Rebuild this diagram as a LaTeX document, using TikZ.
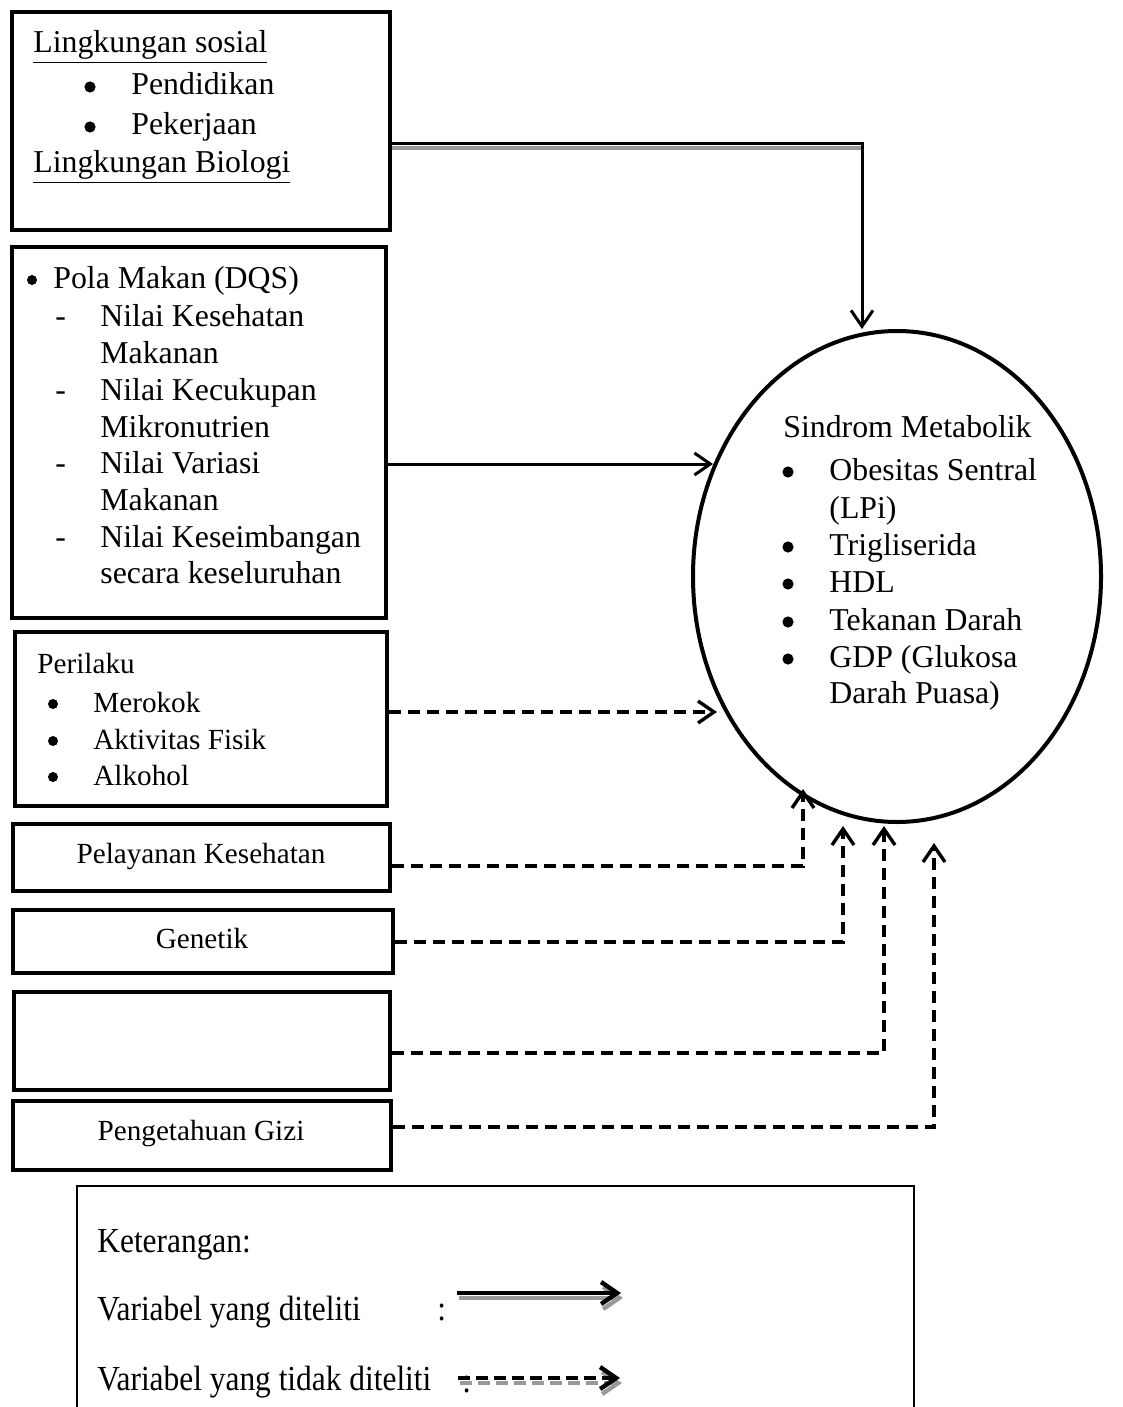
\documentclass[tikz,border=0pt]{standalone}
\usepackage{fontspec}
\setmainfont{Liberation Serif}
\usetikzlibrary{arrows.meta,fit,shapes.geometric,calc}
\tikzset{
  box/.style={draw, line width=2.4pt, inner sep=0pt},
  legendbox/.style={draw, line width=0.8pt, inner sep=0pt},
  big/.style={font=\fontsize{15.9}{18.75}\selectfont, inner sep=0pt, anchor=base west},
  small/.style={font=\fontsize{14.6}{18}\selectfont, inner sep=0pt, anchor=base west},
  legtext/.style={font=\fontsize{15.7}{18.75}\selectfont, inner sep=0pt, anchor=base west, yscale=1.12},
  dot/.style={circle, fill, inner sep=0pt, minimum size=5.6pt},
  sdot/.style={circle, fill, inner sep=0pt, minimum size=5pt},
  tipbarb/.style={-{Straight Barb[length=8pt,width=11pt]}},
  conn/.style={line width=1.5pt, tipbarb},
  dconn/.style={line width=1.7pt, dash pattern=on 6pt off 3.5pt, tipbarb},
  shadowline/.style={line width=1.6pt, draw=black!40},
}
\begin{document}
\begin{tikzpicture}[x=0.5pt,y=-0.5pt]
\useasboundingbox (0,0) rectangle (1123,1407);

% ---------- boxes ----------
\node[box, fit={(12,12)(390,230)}] (b1) {};
\node[box, fit={(12,247)(386,618)}] (b2) {};
\node[box, fit={(15,632)(387,806)}] (b3) {};
\node[box, fit={(13,824)(390,891)}] (b4) {};
\node[box, fit={(13,910)(393,973)}] (b5) {};
\node[box, fit={(14,992)(390,1090)}] (b6) {};
\node[box, fit={(13,1101)(391,1170)}] (b7) {};

% ---------- ellipse ----------
\node[draw, ellipse, line width=2pt, inner sep=0pt,
      minimum width=204pt, minimum height=245.5pt] (sm) at (897,576.5) {};

% ---------- box 1 text ----------
\node[big] (l1a) at (33,53) {\underline{Lingkungan sosial}};
\node[dot] (l1b) at (90,87) {};
\node[big] (l1c) at (131,95) {Pendidikan};
\node[dot] (l1d) at (90,127) {};
\node[big] (l1e) at (131,135) {Pekerjaan};
\node[big] (l1f) at (33,173) {\underline{Lingkungan Biologi}};

% ---------- box 2 text ----------
\node[sdot] (l2a) at (32,280) {};
\node[big] (l2b) at (53,288) {Pola Makan (DQS)};
\node[big] (l2c) at (55,326) {-};
\node[big] (l2d) at (100,326) {Nilai Kesehatan};
\node[big] (l2e) at (100,363) {Makanan};
\node[big] (l2f) at (55,400) {-};
\node[big] (l2g) at (100,400) {Nilai Kecukupan};
\node[big] (l2h) at (100,437) {Mikronutrien};
\node[big] (l2i) at (55,473) {-};
\node[big] (l2j) at (100,473) {Nilai Variasi};
\node[big] (l2k) at (100,510) {Makanan};
\node[big] (l2l) at (55,547) {-};
\node[big] (l2m) at (100,547) {Nilai Keseimbangan};
\node[big] (l2n) at (100,583) {secara keseluruhan};

% ---------- box 3 text ----------
\node[small] (l3a) at (37,673) {Perilaku};
\node[sdot] (l3b) at (53,704) {};
\node[small] (l3c) at (93,712) {Merokok};
\node[sdot] (l3d) at (53,741) {};
\node[small] (l3e) at (93,749) {Aktivitas Fisik};
\node[sdot] (l3f) at (53,777) {};
\node[small] (l3g) at (93,785) {Alkohol};

% ---------- boxes 4-7 text ----------
\node[small, anchor=base] (l4) at (201,863) {Pelayanan Kesehatan};
\node[small, anchor=base] (l5) at (202,948) {Genetik};
\node[small, anchor=base] (l7) at (201,1140) {Pengetahuan Gizi};

% ---------- ellipse text ----------
\node[big] (e0) at (783,437) {Sindrom Metabolik};
\node[dot] (e1b) at (788,472) {};
\node[big] (e1) at (829,480) {Obesitas Sentral};
\node[big] (e1c) at (829,518) {(LPi)};
\node[dot] (e2b) at (788,547) {};
\node[big] (e2) at (829,555) {Trigliserida};
\node[dot] (e3b) at (788,584) {};
\node[big] (e3) at (829,592) {HDL};
\node[dot] (e4b) at (788,622) {};
\node[big] (e4) at (829,630) {Tekanan Darah};
\node[dot] (e5b) at (788,659) {};
\node[big] (e5) at (829,667) {GDP (Glukosa};
\node[big] (e5c) at (829,703) {Darah Puasa)};

% ---------- connectors ----------
\coordinate (k1) at (862,144);
\coordinate (t1) at (862,329);
\draw[shadowline] ($(b1.east |- k1)+(0,4)$) -- ($(k1)+(0,4)$);
\draw[conn] (b1.east |- k1) -- (k1) -- (t1);

\coordinate (t2) at (713,464);
\draw[conn] (b2.east |- t2) -- (t2);

\coordinate (t3) at (717,712);
\draw[dconn] (b3.east |- t3) -- (t3);

\coordinate (k4) at (803,866);
\coordinate (t4) at (803,789);
\draw[dconn] (b4.east |- k4) -- (k4) -- (t4);

\coordinate (k5) at (843,942);
\coordinate (t5) at (843,826);
\draw[dconn] (b5.east |- k5) -- (k5) -- (t5);

\coordinate (k6) at (884,1053);
\coordinate (t6) at (884,826);
\draw[dconn] (b6.east |- k6) -- (k6) -- (t6);

\coordinate (k7) at (934,1127);
\coordinate (t7) at (934,843);
\draw[dconn] (b7.east |- k7) -- (k7) -- (t7);

% ---------- legend ----------
\node[legendbox, fit={(77,1186)(914,1440)}] (leg) {};
\node[legtext] (g0) at (97,1252) {Keterangan:};
\node[legtext] (g1) at (97,1320) {Variabel yang diteliti};
\node[legtext] (g1c) at (437,1320) {:};
\node[legtext] (g2) at (97,1390) {Variabel yang tidak diteliti};

\coordinate (s1a) at (457,1293);
\coordinate (s1b) at (621,1293);
\draw[line width=2.2pt, draw=black!40, tipbarb] ($(s1a)+(2,5)$) -- ($(s1b)+(2,5)$);
\draw[line width=2.2pt, tipbarb] (s1a) -- (s1b);

\coordinate (s2a) at (458,1378);
\coordinate (s2b) at (620,1378);
\draw[line width=2.2pt, draw=black!40, dash pattern=on 6pt off 3pt, tipbarb] ($(s2a)+(2,5)$) -- ($(s2b)+(2,5)$);
\draw[line width=2.2pt, dash pattern=on 6pt off 3pt, tipbarb] (s2a) -- (s2b);
\node[legtext] (g2c) at (462,1392) {:};
\end{tikzpicture}
\end{document}
